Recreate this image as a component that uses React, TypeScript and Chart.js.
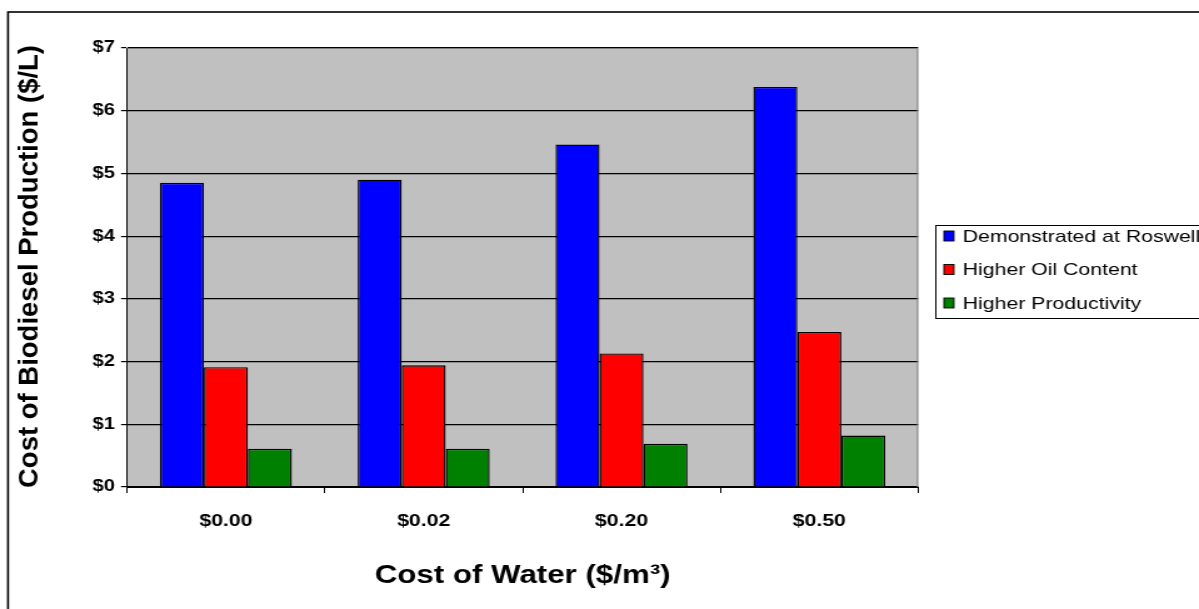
import { useEffect, useRef } from 'react';
import { Chart, registerables } from 'chart.js';

Chart.register(...registerables);

// ---- data ----
const categories = ['$0.00', '$0.02', '$0.20', '$0.50'];
const demonstratedAtRoswell = [4.85, 4.9, 5.46, 6.38];
const higherOilContent = [1.91, 1.94, 2.13, 2.47];
const higherProductivity = [0.61, 0.61, 0.69, 0.82];
const seriesNames = ['Demonstrated at Roswell', 'Higher Oil Content', 'Higher Productivity'];
const seriesColors = ['#0000FF', '#FF0000', '#008000'];
const yTickValues = [0, 1, 2, 3, 4, 5, 6, 7];
const xAxisTitle = 'Cost of Water ($/m³)';
const yAxisTitle = 'Cost of Biodiesel Production ($/L)';

// ---- geometry (reference is horizontally stretched) ----
const W = 1199;
const H = 609;
const SX = 1.25;
const CW = Math.round(W / SX);
const FONT = 'Arial, "Liberation Sans", sans-serif';

const decor = {
  id: 'decor',
  beforeDraw(chart: any) {
    const { ctx, chartArea: a } = chart;
    ctx.save();
    ctx.fillStyle = '#ffffff';
    ctx.fillRect(0, 0, chart.width, chart.height);
    ctx.fillStyle = '#C0C0C0';
    ctx.fillRect(a.left, a.top, a.right - a.left, a.bottom - a.top);
    ctx.strokeStyle = '#000000';
    ctx.lineWidth = 1.6;
    ctx.strokeRect(6.4, 12, chart.width + 40, chart.height + 40);
    ctx.restore();
  },
  afterDraw(chart: any) {
    const { ctx, chartArea: a } = chart;
    ctx.save();
    // gray plot border top & right
    ctx.strokeStyle = '#808080';
    ctx.lineWidth = 1;
    ctx.beginPath();
    ctx.moveTo(a.left, a.top + 0.5);
    ctx.lineTo(a.right - 0.5, a.top + 0.5);
    ctx.lineTo(a.right - 0.5, a.bottom);
    ctx.stroke();

    // y axis title, drawn without the horizontal stretch
    const yTitle = chart.options.scales.y.title.text;
    ctx.save();
    ctx.translate(30 / SX, (a.top + a.bottom) / 2 - 1);
    ctx.scale(1 / SX, 1);
    ctx.rotate(-Math.PI / 2);
    ctx.font = `bold 27.5px ${FONT}`;
    ctx.fillStyle = '#000000';
    ctx.textAlign = 'center';
    ctx.textBaseline = 'middle';
    ctx.fillText(yTitle, 0, 0);
    ctx.restore();

    // legend
    const lx = 748;
    const ly = 225;
    const lh = 93;
    ctx.strokeStyle = '#000000';
    ctx.lineWidth = 1;
    ctx.strokeRect(lx + 0.5, ly + 0.5, 400, lh);
    const items = chart.data.datasets;
    ctx.font = `17px ${FONT}`;
    ctx.textBaseline = 'middle';
    ctx.textAlign = 'left';
    items.forEach((ds: any, i: number) => {
      const cy = 236 + i * 33.5;
      ctx.fillStyle = ds.backgroundColor;
      ctx.fillRect(755, cy - 5, 8, 10);
      ctx.strokeStyle = '#000000';
      ctx.lineWidth = 0.9;
      ctx.strokeRect(755, cy - 5, 8, 10);
      ctx.fillStyle = '#000000';
      ctx.fillText(ds.label, 770, cy + 1);
    });
    ctx.restore();
  },
};

export default function App() {
  const ref = useRef<HTMLCanvasElement | null>(null);

  useEffect(() => {
    if (!ref.current) return;
    const data = [demonstratedAtRoswell, higherOilContent, higherProductivity];
    const chart = new Chart(ref.current, {
      type: 'bar',
      data: {
        labels: categories,
        datasets: data.map((d, i) => ({
          label: seriesNames[i],
          data: d,
          backgroundColor: seriesColors[i],
          borderColor: '#000000',
          borderWidth: 1.4,
          categoryPercentage: 0.667,
          barPercentage: 1,
        })),
      },
      options: {
        responsive: false,
        animation: false,
        devicePixelRatio: 1,
        layout: { padding: { left: 0, top: 48, right: CW - 918 / SX, bottom: 0 } },
        plugins: {
          legend: { display: false },
          tooltip: { enabled: false },
          title: { display: false },
        },
        scales: {
          x: {
            offset: true,
            grid: {
              display: true,
              drawOnChartArea: false,
              drawTicks: true,
              tickLength: 6,
              color: '#000000',
              offset: true,
            },
            border: { display: true, color: '#000000', width: 1 },
            ticks: {
              color: '#000000',
              font: { family: FONT, size: 17, weight: 'bold' },
              padding: 18,
              maxRotation: 0,
            },
            title: {
              display: true,
              text: xAxisTitle,
              color: '#000000',
              font: { family: FONT, size: 25, weight: 'bold' },
              padding: { top: 0, bottom: 18 },
            },
            afterFit(scale: any) {
              scale.height = H - 487;
            },
          },
          y: {
            min: 0,
            max: 7,
            afterBuildTicks(scale: any) {
              scale.ticks = yTickValues.map((v) => ({ value: v }));
            },
            grid: {
              color: '#000000',
              lineWidth: 1.2,
              tickLength: 4.8,
              drawTicks: true,
            },
            border: { display: true, color: '#000000', width: 1 },
            ticks: {
              color: '#000000',
              font: { family: FONT, size: 16, weight: 'bold' },
              padding: 5,
              callback: (v: any) => '$' + v,
            },
            title: {
              display: false,
              text: yAxisTitle,
            },
            afterFit(scale: any) {
              scale.width = 127 / SX;
            },
          },
        },
      },
      plugins: [decor],
    });
    return () => chart.destroy();
  }, []);

  return (
    <div style={{ position: 'fixed', left: 0, top: 0, width: W, height: H, background: '#fff' }}>
      <canvas
        ref={ref}
        width={CW}
        height={H}
        style={{ width: `${W}px`, height: `${H}px`, display: 'block' }}
      />
    </div>
  );
}
